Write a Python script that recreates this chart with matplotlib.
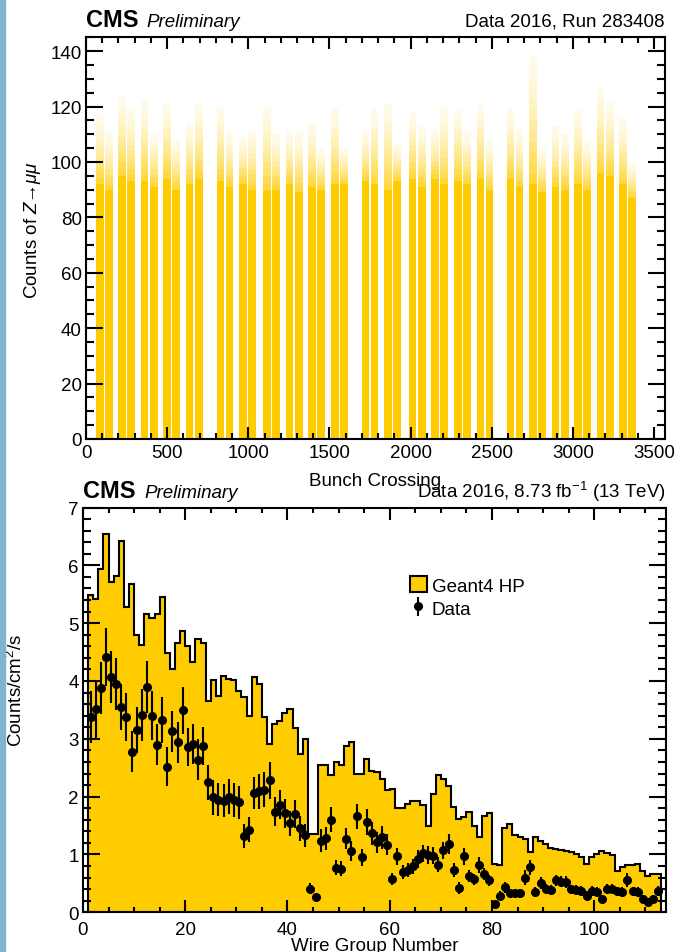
import numpy as np
import matplotlib
matplotlib.use('Agg')
import matplotlib.pyplot as plt
from matplotlib.patches import Patch, Rectangle
from matplotlib.ticker import MultipleLocator

plt.rcParams['font.family'] = ['Liberation Sans', 'DejaVu Sans']
plt.rcParams['mathtext.fontset'] = 'custom'
plt.rcParams['mathtext.rm'] = 'Liberation Sans'
plt.rcParams['mathtext.it'] = 'Liberation Sans:italic'
plt.rcParams['mathtext.bf'] = 'Liberation Sans:bold'
plt.rcParams['mathtext.default'] = 'regular'

YELLOW = '#ffcc00'
FS = 13.5

# ---- top panel: Z->mumu counts per bunch crossing (run 283408)
# first bunch of each injection (two 48-bunch trains, 8 empty slots between)
inj_start = [60, 198, 337, 475, 614, 804, 942, 1091, 1230, 1369, 1508, 1698,
             1836, 1988, 2127, 2266, 2406, 2591, 2729, 2869, 3008, 3146, 3285]
train_offset = [0, 56]
train_len = 48
# level up to which a train looks solid, and its highest bunch (train A, train B)
train_solid = [92, 90, 95, 93, 93, 91, 94, 90, 92, 94,
               93, 91, 92, 90, 90, 90, 92, 89, 91, 90,
               92, 92, 93, 92, 90, 93, 94, 91, 94, 92,
               93, 92, 94, 90, 94, 91, 92, 89, 91, 90,
               92, 90, 96, 95, 92, 87]
train_peak = [117, 111, 124, 119, 122, 110, 121, 108, 114, 121,
              120, 111, 109, 112, 120, 110, 111, 111, 114, 105,
              119, 105, 111, 119, 121, 107, 118, 113, 112, 120,
              119, 111, 121, 108, 119, 112, 138, 105, 113, 110,
              119, 108, 127, 122, 116, 100]

# ---- bottom panel: rate per wire group
wg_edges = np.arange(1, 114)
g4hp = [5.49, 5.42, 5.93, 6.55, 5.71, 5.82, 6.42, 5.28, 5.67, 4.79,
        4.62, 5.15, 5.09, 5.15, 5.46, 4.48, 4.20, 4.66, 4.86, 4.60,
        4.33, 4.72, 4.66, 3.65, 4.01, 3.74, 4.08, 4.04, 4.02, 3.82,
        3.72, 3.40, 4.07, 3.95, 3.38, 2.91, 3.25, 3.31, 3.44, 3.52,
        3.18, 2.74, 3.00, 1.36, 1.36, 2.55, 2.55, 2.37, 2.60, 2.55,
        2.88, 2.94, 2.40, 2.40, 2.65, 2.45, 2.42, 2.31, 2.11, 2.14,
        1.80, 1.80, 1.88, 1.93, 1.93, 1.85, 1.50, 2.05, 2.37, 2.30,
        2.18, 1.82, 1.61, 1.64, 1.73, 1.50, 1.31, 1.66, 1.72, 0.84,
        0.81, 1.45, 1.53, 1.34, 1.30, 1.27, 1.05, 1.30, 1.24, 1.18,
        1.12, 1.09, 1.08, 1.06, 1.04, 1.01, 0.95, 0.84, 0.95, 1.00,
        1.06, 1.03, 0.99, 0.72, 0.79, 0.81, 0.82, 0.84, 0.72, 0.63,
        0.66, 0.66]
data = [3.38, 3.51, 3.88, 4.41, 4.07, 3.95, 3.55, 3.38, 2.78, 3.15,
        3.42, 3.89, 3.40, 2.90, 3.33, 2.52, 3.13, 2.94, 3.49, 2.86,
        2.91, 2.64, 2.88, 2.25, 1.99, 1.95, 1.93, 2.00, 1.94, 1.90,
        1.32, 1.43, 2.06, 2.09, 2.12, 2.28, 1.74, 1.86, 1.71, 1.54,
        1.70, 1.45, 1.33, 0.41, 0.26, 1.24, 1.28, 1.60, 0.77, 0.75,
        1.27, 1.06, 1.66, 0.95, 1.56, 1.37, 1.21, 1.30, 1.17, 0.58,
        0.97, 0.70, 0.73, 0.80, 0.92, 1.02, 0.99, 0.98, 0.82, 1.07,
        1.18, 0.73, 0.42, 0.97, 0.63, 0.57, 0.82, 0.66, 0.55, 0.14,
        0.29, 0.43, 0.33, 0.33, 0.33, 0.60, 0.78, 0.35, 0.51, 0.41,
        0.39, 0.55, 0.53, 0.52, 0.40, 0.39, 0.37, 0.29, 0.37, 0.35,
        0.23, 0.41, 0.41, 0.36, 0.35, 0.56, 0.36, 0.35, 0.23, 0.18,
        0.23, 0.37]
data_err = [0.45, 0.50, 0.45, 0.50, 0.45, 0.45, 0.40, 0.42, 0.35, 0.40,
            0.45, 0.45, 0.42, 0.35, 0.40, 0.33, 0.35, 0.35, 0.40, 0.33,
            0.35, 0.35, 0.33, 0.30, 0.30, 0.28, 0.28, 0.30, 0.30, 0.28,
            0.20, 0.22, 0.28, 0.30, 0.30, 0.32, 0.25, 0.25, 0.25, 0.22,
            0.25, 0.22, 0.20, 0.10, 0.08, 0.20, 0.20, 0.22, 0.13, 0.13,
            0.18, 0.18, 0.22, 0.15, 0.22, 0.20, 0.18, 0.20, 0.18, 0.10,
            0.15, 0.12, 0.12, 0.13, 0.15, 0.15, 0.15, 0.15, 0.13, 0.15,
            0.17, 0.12, 0.10, 0.15, 0.11, 0.10, 0.14, 0.11, 0.10, 0.06,
            0.07, 0.10, 0.08, 0.08, 0.08, 0.13, 0.13, 0.08, 0.10, 0.08,
            0.08, 0.10, 0.10, 0.10, 0.08, 0.08, 0.08, 0.07, 0.08, 0.08,
            0.07, 0.08, 0.08, 0.08, 0.08, 0.12, 0.08, 0.08, 0.07, 0.06,
            0.07, 0.08]

fig = plt.figure(figsize=(6.92, 9.53), dpi=100)
fig.patches.append(Rectangle((0, 0), 5 / 692, 1, transform=fig.transFigure,
                             color='#7fb3d0', zorder=0))

ax1 = fig.add_axes([86 / 692, 1 - 440 / 953, 578.5 / 692, 401.7 / 953])
ax2 = fig.add_axes([83 / 692, 1 - 913.3 / 953, 582.8 / 692, 404.8 / 953])

# top: solid part of every train, then a fading band up to its tallest bunch
starts = np.array([s + o for s in inj_start for o in train_offset])
solid = np.array(train_solid, dtype=float)
peak = np.array(train_peak, dtype=float)
ax1.bar(starts, solid, width=train_len, align='edge', color=YELLOW, lw=0)
nl = 12
for k in range(nl):
    lo = solid + (peak - solid) * k / nl
    hi = solid + (peak - solid) * (k + 1) / nl
    a = 0.7 * (1 - k / nl) ** 1.6 + 0.06
    ax1.bar(starts, hi - lo, bottom=lo, width=train_len, align='edge',
            color=YELLOW, alpha=a, lw=0)

ax1.set_xlim(0, 3564)
ax1.set_ylim(0, 145)
ax1.xaxis.set_major_locator(MultipleLocator(500))
ax1.xaxis.set_minor_locator(MultipleLocator(100))
ax1.yaxis.set_major_locator(MultipleLocator(20))
ax1.yaxis.set_minor_locator(MultipleLocator(5))
ax1.set_xlabel('Bunch Crossing', fontsize=FS, va='baseline')
ax1.xaxis.set_label_coords(0.5, (440 - 486) / 401.7)
ax1.set_ylabel('Counts of $\\mathit{Z}$→$\\mathit{\\mu\\mu}$', fontsize=FS,
               va='center')
ax1.yaxis.set_label_coords(-0.0933, 0.523)

# bottom: Geant4 HP histogram and data points
ax2.stairs(g4hp, wg_edges, fill=True, color=YELLOW, lw=0)
ax2.stairs(g4hp, wg_edges, baseline=0, color='black', lw=1.5)
centers = wg_edges[:-1] + 0.5
eb = ax2.errorbar(centers, data, yerr=data_err, fmt='o', color='black',
                  ms=5.5, elinewidth=1.5, capsize=0)
ax2.set_xlim(0, 114)
ax2.set_ylim(0, 7)
ax2.xaxis.set_major_locator(MultipleLocator(20))
ax2.xaxis.set_minor_locator(MultipleLocator(5))
ax2.yaxis.set_major_locator(MultipleLocator(1))
ax2.yaxis.set_minor_locator(MultipleLocator(0.2))
ax2.set_xlabel('Wire Group Number', fontsize=FS, va='baseline')
ax2.xaxis.set_label_coords(0.5, (913.3 - 951) / 404.8)
ax2.set_ylabel('Counts/cm$^2$/s', fontsize=FS, va='center')
ax2.yaxis.set_label_coords(-0.115, 0.552)

ax2.legend(handles=[Patch(facecolor=YELLOW, edgecolor='black', lw=1.5), eb],
           labels=['Geant4 HP', 'Data'], loc='upper left',
           bbox_to_anchor=(0.561, 0.83), frameon=False, fontsize=FS,
           handlelength=0.9, handleheight=0.9, handletextpad=0.25,
           labelspacing=0.25, borderpad=0, borderaxespad=0)

for ax in (ax1, ax2):
    for sp in ax.spines.values():
        sp.set_linewidth(1.5)
    ax.tick_params(which='both', direction='in', top=True, right=True,
                   width=1.5, labelsize=FS)
    ax.tick_params(axis='y', which='major', length=12, pad=3)
    ax.tick_params(axis='y', which='minor', length=6)
    ax.tick_params(axis='x', which='major', length=8.5)
    ax.tick_params(axis='x', which='minor', length=4.5)
ax1.tick_params(axis='x', which='major', pad=3.5)
ax2.tick_params(axis='x', which='major', pad=6)
ax2.tick_params(axis='x', which='minor', length=3.6)

# headers
ax1.text(0, 1.029, 'CMS', transform=ax1.transAxes, fontsize=17,
         fontweight='bold', va='baseline')
ax1.text(0.105, 1.029, 'Preliminary', transform=ax1.transAxes, fontsize=FS,
         style='italic', va='baseline')
ax1.text(1.0, 1.029, 'Data 2016, Run 283408', transform=ax1.transAxes,
         fontsize=FS, ha='right', va='baseline')
ax2.text(0, 1.026, 'CMS', transform=ax2.transAxes, fontsize=17,
         fontweight='bold', va='baseline')
ax2.text(0.1047, 1.026, 'Preliminary', transform=ax2.transAxes, fontsize=FS,
         style='italic', va='baseline')
ax2.text(1.0, 1.026, 'Data 2016, 8.73 fb$^{-1}$ (13 TeV)',
         transform=ax2.transAxes, fontsize=FS, ha='right', va='baseline')

fig.savefig('out.png', dpi=100)
